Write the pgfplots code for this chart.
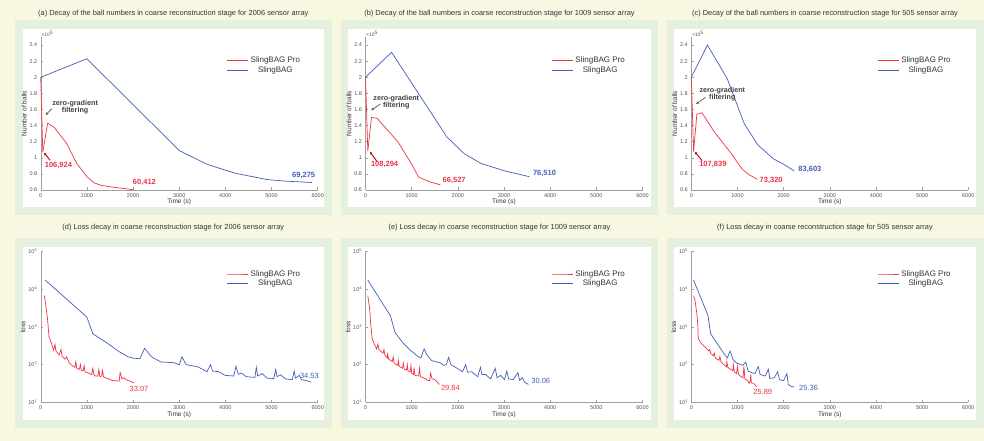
\documentclass[border=0pt]{standalone}
\usepackage{fontspec}
\setmainfont{Liberation Sans}
\usepackage{pgfplots}
\pgfplotsset{compat=1.18}
\usetikzlibrary{arrows.meta}

\definecolor{bgyellow}{RGB}{248,248,226}
\definecolor{panelgreen}{RGB}{230,240,222}
\definecolor{slred}{RGB}{238,52,66}
\definecolor{slblue}{RGB}{68,94,182}
\definecolor{arrowred}{RGB}{190,20,30}
\definecolor{arrowbrown}{RGB}{125,95,65}
\definecolor{axisgray}{RGB}{160,160,160}
\definecolor{ticktext}{RGB}{85,85,85}

\newcommand{\fs}[1]{\fontsize{#1}{#1}\selectfont}

\pgfplotsset{
  panelstyle/.style={
    scale only axis, width=277pt,
    axis lines=left, axis line style={axisgray, -},
    xmin=0, xmax=6000, xtick={0,1000,2000,3000,4000,5000,6000},
    scaled x ticks=false, clip=false,
    /pgf/number format/1000 sep={},
    /pgf/number format/assume math mode=true,
    tick align=inside, major tick length=2.5pt, minor tick length=1.5pt,
    tick style={axisgray, line width=0.4pt},
    tick label style={font=\fs{5.5}, text=ticktext},
    label style={font=\fs{6.5}, text=black!80},
    xlabel={Time (s)},
    xlabel style={yshift=5pt},
    ylabel style={yshift=-4pt},
    legend style={draw=none, fill=none, font=\fs{8}, text=black!80, at={(0.66,0.90)}, anchor=north west, row sep=-1.5pt},
    legend cell align=center,
    legend image post style={xscale=1.24, line width=0.8pt},
    every axis plot/.append style={line width=0.7pt},
  },
  ballstyle/.style={panelstyle, height=153pt, ymin=0.6, ymax=2.5,
    ytick={0.6,0.8,1,1.2,1.4,1.6,1.8,2,2.2,2.4}, ylabel={Number of balls}},
  lossstyle/.style={panelstyle, height=151.5pt, ymin=10, ymax=100000,
    ytick={10,100,1000,10000,100000},
    yticklabels={10\textsuperscript{1},10\textsuperscript{2},10\textsuperscript{3},10\textsuperscript{4},10\textsuperscript{5}},
    ylabel={loss}},
}

\newcommand{\xfive}{\node[anchor=south west, inner sep=0.5pt, font=\fs{5}, text=ticktext] at (rel axis cs:0,1) {×10\textsuperscript{5}};}

\begin{document}
\begin{tikzpicture}
\begin{scope}[x=1pt,y=1pt]
  \fill[bgyellow] (0,0) rectangle (984,441);
  \foreach \gx/\wx/\ww in {15/22.7/324, 341/348/651, 667/674/976}{
    \fill[panelgreen] (\gx,226) rectangle (\gx+316.7,421);
    \fill[white] (\wx,234) rectangle (\ww,412);
    \fill[panelgreen] (\gx,13) rectangle (\gx+316.7,203);
    \fill[white] (\wx,21) rectangle (\ww,194);
  }
  \node[font=\fs{7.4}, text=black!80] at (173.3,427.7) {(a) Decay of the ball numbers in coarse reconstruction stage for 2006 sensor array};
  \node[font=\fs{7.4}, text=black!80] at (499.5,427.7) {(b) Decay of the ball numbers in coarse reconstruction stage for 1009 sensor array};
  \node[font=\fs{7.4}, text=black!80] at (825,427.7) {(c) Decay of the ball numbers in coarse reconstruction stage for 505 sensor array};
  \node[font=\fs{7.4}, text=black!80] at (173.3,213.7) {(d) Loss decay in coarse reconstruction stage for 2006 sensor array};
  \node[font=\fs{7.4}, text=black!80] at (499.5,213.7) {(e) Loss decay in coarse reconstruction stage for 1009 sensor array};
  \node[font=\fs{7.4}, text=black!80] at (825,213.7) {(f) Loss decay in coarse reconstruction stage for 505 sensor array};
\end{scope}

% (a)
\begin{axis}[ballstyle, at={(40.7pt,251pt)}, anchor=south west]
\addplot[slred] coordinates {(0,2.0)(45,1.069)(150,1.43)(290,1.38)(560,1.18)(780,0.93)(1000,0.765)(1150,0.69)(1300,0.66)(1500,0.64)(2000,0.604)};
\addlegendentry{SlingBAG Pro}
\addplot[slblue] coordinates {(0,2.0)(1000,2.23)(2000,1.66)(3000,1.09)(3600,0.92)(4200,0.81)(4900,0.73)(5300,0.71)(5880,0.693)};
\addlegendentry{SlingBAG}
\xfive
\node[align=center, font=\bfseries\fs{7.2}, text=black!75] at (axis cs:746,1.63) {zero-gradient\\filtering};
\draw[-{Stealth[length=3pt,width=3pt]}, arrowbrown, line width=0.8pt] (axis cs:239,1.61) -- (axis cs:109,1.53);
\draw[-{Stealth[length=3pt,width=3pt]}, arrowred, line width=1pt] (axis cs:203,0.97) -- (axis cs:72,1.063);
\node[font=\bfseries\fs{7.5}, text=slred] at (axis cs:384,0.9) {106,924};
\node[font=\bfseries\fs{7.5}, text=slred] at (axis cs:2246,0.69) {60,412};
\node[font=\bfseries\fs{7.5}, text=slblue] at (axis cs:5696,0.778) {69,275};
\end{axis}

% (b)
\begin{axis}[ballstyle, at={(365.5pt,251pt)}, anchor=south west]
\addplot[slred] coordinates {(0,2.0)(50,1.083)(130,1.50)(250,1.49)(700,1.2)(1000,0.92)(1150,0.76)(1400,0.70)(1620,0.665)};
\addlegendentry{SlingBAG Pro}
\addplot[slblue] coordinates {(0,2.0)(565,2.31)(1760,1.26)(2140,1.05)(2500,0.93)(3000,0.84)(3550,0.765)};
\addlegendentry{SlingBAG}
\xfive
\node[align=center, font=\bfseries\fs{7.2}, text=black!75] at (axis cs:667,1.69) {zero-gradient\\filtering};
\draw[-{Stealth[length=3pt,width=3pt]}, arrowbrown, line width=0.8pt] (axis cs:326,1.67) -- (axis cs:123,1.59);
\draw[-{Stealth[length=3pt,width=3pt]}, arrowred, line width=1pt] (axis cs:254,0.95) -- (axis cs:94,1.076);
\node[font=\bfseries\fs{7.5}, text=slred] at (axis cs:413,0.92) {108,294};
\node[font=\bfseries\fs{7.5}, text=slred] at (axis cs:1920,0.724) {66,527};
\node[font=\bfseries\fs{7.5}, text=slblue] at (axis cs:3877,0.80) {76,510};
\end{axis}

% (c)
\begin{axis}[ballstyle, at={(691.3pt,251pt)}, anchor=south west]
\addplot[slred] coordinates {(0,2.0)(50,1.078)(120,1.54)(230,1.56)(500,1.32)(870,1.05)(1000,0.94)(1100,0.86)(1250,0.79)(1430,0.733)};
\addlegendentry{SlingBAG Pro}
\addplot[slblue] coordinates {(0,2.0)(350,2.40)(780,1.98)(1150,1.42)(1440,1.16)(1770,0.99)(2000,0.92)(2230,0.836)};
\addlegendentry{SlingBAG}
\xfive
\node[align=center, font=\bfseries\fs{7.2}, text=black!75] at (axis cs:672,1.79) {zero-gradient\\filtering};
\draw[-{Stealth[length=3pt,width=3pt]}, arrowbrown, line width=0.8pt] (axis cs:306,1.75) -- (axis cs:102,1.667);
\draw[-{Stealth[length=3pt,width=3pt]}, arrowred, line width=1pt] (axis cs:234,0.964) -- (axis cs:73,1.076);
\node[font=\bfseries\fs{7.5}, text=slred] at (axis cs:467,0.92) {107,839};
\node[font=\bfseries\fs{7.5}, text=slred] at (axis cs:1730,0.716) {73,320};
\node[font=\bfseries\fs{7.5}, text=slblue] at (axis cs:2569,0.856) {83,603};
\end{axis}

% (d)
\begin{axis}[ymode=log, log basis y=10, lossstyle, at={(40.7pt,38.5pt)}, anchor=south west]
\addplot[slred] coordinates {(80,6600)(120,3000)(150,1500)(180,550)(230,380)(280,240)(310,340)(330,230)(400,180)(440,250)(460,170)(520,140)(560,160)(580,140)(620,110)(700,90)(740,85)(760,120)(780,80)(840,75)(860,100)(880,70)(920,70)(940,95)(960,65)(1000,62)(1100,55)(1130,80)(1150,55)(1180,50)(1240,50)(1260,75)(1280,48)(1320,50)(1340,70)(1360,48)(1400,45)(1480,42)(1550,38)(1700,37)(1720,62)(1760,42)(1800,45)(1850,40)(1950,36)(2020,33.07)};
\addlegendentry{SlingBAG Pro}
\addplot[slblue] coordinates {(100,17000)(1000,1800)(1130,650)(1400,400)(1700,220)(1900,160)(2000,148)(2150,143)(2250,270)(2400,160)(2600,118)(2900,112)(3000,98)(3060,160)(3150,100)(3400,88)(3600,65)(3680,100)(3720,68)(3850,65)(4000,52)(4180,50)(4230,90)(4280,56)(4350,60)(4450,48)(4640,46)(4670,85)(4700,50)(4800,58)(4900,44)(5050,43)(5090,75)(5120,48)(5200,54)(5300,42)(5450,40)(5490,68)(5520,44)(5600,52)(5650,40)(5750,38)(5860,34.53)};
\addlegendentry{SlingBAG}
\node[font=\fs{7.5}, text=slred] at (axis cs:2129,22.8) {33.07};
\node[font=\fs{7.5}, text=slblue] at (axis cs:5821,51) {34.53};
\end{axis}

% (e)
\begin{axis}[ymode=log, log basis y=10, lossstyle, at={(365.5pt,38.5pt)}, anchor=south west]
\addplot[slred] coordinates {(50,6600)(90,3000)(110,1300)(145,480)(200,330)(240,260)(270,350)(290,250)(380,200)(400,250)(420,180)(470,150)(480,190)(500,140)(580,120)(600,160)(620,110)(700,95)(710,130)(730,90)(800,80)(820,110)(840,75)(890,72)(905,100)(920,68)(970,65)(985,95)(1000,60)(1040,55)(1050,85)(1070,52)(1150,50)(1170,80)(1190,48)(1250,45)(1300,42)(1350,38)(1390,38)(1410,60)(1440,42)(1500,40)(1560,34)(1600,29.84)};
\addlegendentry{SlingBAG Pro}
\addplot[slblue] coordinates {(50,17000)(540,1950)(640,700)(800,390)(980,235)(1150,160)(1200,150)(1270,260)(1330,180)(1430,128)(1630,110)(1700,95)(1750,100)(1800,155)(1850,100)(1950,85)(2100,65)(2170,100)(2210,63)(2300,65)(2430,48)(2490,85)(2520,55)(2600,55)(2710,42)(2810,80)(2850,45)(2930,52)(3010,40)(3060,68)(3100,42)(3200,40)(3300,62)(3340,38)(3400,45)(3450,34)(3530,30.06)};
\addlegendentry{SlingBAG}
\node[font=\fs{7.5}, text=slred] at (axis cs:1839,23.8) {29.84};
\node[font=\fs{7.5}, text=slblue] at (axis cs:3796,37.7) {30.06};
\end{axis}

% (f)
\begin{axis}[ymode=log, log basis y=10, lossstyle, at={(691.3pt,38.5pt)}, anchor=south west]
\addplot[slred] coordinates {(50,6600)(80,5000)(120,2200)(140,1200)(150,500)(200,380)(260,320)(300,290)(380,230)(400,250)(420,200)(480,170)(500,200)(520,150)(600,130)(620,165)(640,120)(700,100)(760,88)(770,120)(790,85)(850,75)(900,70)(910,100)(930,65)(980,58)(1000,90)(1020,55)(1080,48)(1120,45)(1140,90)(1160,42)(1220,38)(1250,32)(1270,35)(1290,55)(1300,33)(1350,32)(1420,25.89)};
\addlegendentry{SlingBAG Pro}
\addplot[slblue] coordinates {(50,17000)(360,2000)(420,650)(540,390)(690,210)(780,150)(840,230)(900,140)(980,110)(1120,96)(1180,117)(1230,68)(1300,62)(1380,58)(1450,89)(1490,55)(1600,50)(1670,75)(1700,43)(1800,45)(1870,65)(1910,40)(2000,38)(2070,58)(2100,30)(2150,27)(2230,25.36)};
\addlegendentry{SlingBAG}
\node[font=\fs{7.5}, text=slred] at (axis cs:1547,19.4) {25.89};
\node[font=\fs{7.5}, text=slblue] at (axis cs:2540,23.8) {25.36};
\end{axis}
\end{tikzpicture}
\end{document}
